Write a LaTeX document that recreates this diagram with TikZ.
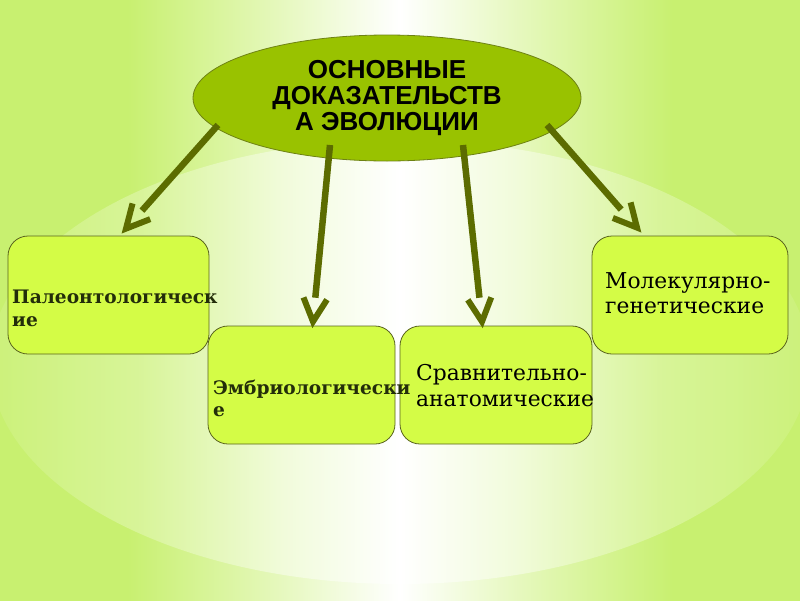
\documentclass[tikz,border=0pt]{standalone}
\usepackage{fontspec}
\setmainfont{DejaVu Serif}
\newfontfamily\titlefont{Liberation Sans}
\usetikzlibrary{shapes.geometric,calc}
\definecolor{bgG}{RGB}{200,240,112}
\definecolor{ellG}{RGB}{153,194,0}
\definecolor{ellB}{RGB}{110,130,20}
\definecolor{boxG}{RGB}{212,252,70}
\definecolor{boxB}{RGB}{90,100,30}
\definecolor{arr}{RGB}{92,108,0}
\definecolor{txtD}{RGB}{35,45,10}
\colorlet{bgA}{bgG!55!white}
\colorlet{elA}{bgG!93!white}
\colorlet{elB}{bgG!72!white}
\colorlet{elC}{bgG!25!white}
\pgfdeclarehorizontalshading{bgsh}{100bp}{color(0bp)=(bgG); color(25bp)=(bgG); color(33bp)=(bgG); color(41bp)=(bgA); color(50bp)=(white); color(59bp)=(bgA); color(67bp)=(bgG); color(75bp)=(bgG); color(100bp)=(bgG)}
\pgfdeclarehorizontalshading{ellsh}{100bp}{color(0bp)=(elA); color(25bp)=(elA); color(34bp)=(elB); color(43bp)=(elC); color(50bp)=(white); color(57bp)=(elC); color(66bp)=(elB); color(75bp)=(elA); color(100bp)=(elA)}
\begin{document}
\begin{tikzpicture}[x=1pt,y=-1pt,
  boxst/.style={draw=boxB, line width=0.8pt, fill=boxG, rounded corners=20pt, minimum height=118pt, inner sep=0pt},
  shaft/.style={draw=arr, line width=6.5pt},
  vhead/.style={draw=arr, line width=6pt, line join=miter},
  boldtxt/.style={anchor=base west, inner sep=0pt, text=txtD, font=\fontsize{18.6}{21}\selectfont\bfseries},
  regtxt/.style={anchor=base west, inner sep=0pt, text=black, font=\fontsize{21.8}{25}\selectfont}]
\useasboundingbox (0,0) rectangle (800,600);
\clip (0,0) rectangle (800,600);
\shade[shading=bgsh] (0,0) rectangle (800,600);
\shade[shading=ellsh] (400,362) ellipse [x radius=410, y radius=222];

\node[ellipse, draw=ellB, line width=0.8pt, fill=ellG, minimum width=388pt, minimum height=126pt, inner sep=0pt, align=center, text=black,
  font=\titlefont\fontsize{26}{26}\selectfont\bfseries] (e) at (387,98) {ОСНОВНЫЕ\\ДОКАЗАТЕЛЬСТВ\\А ЭВОЛЮЦИИ};

\node[boxst, minimum width=201pt] (b1) at (108.5,295) {};
\node[boxst, minimum width=187pt] (b2) at (301.5,385) {};
\node[boxst, minimum width=192pt] (b3) at (496,385) {};
\node[boxst, minimum width=196pt] (b4) at (690,295) {};

\node[boldtxt] (t1a) at (12,303) {Палеонтологическ};
\node[boldtxt] (t1b) at (12,326) {ие};
\node[boldtxt] (t2a) at (213,394) {Эмбриологически};
\node[boldtxt] (t2b) at (213,416) {е};
\node[regtxt] (t3a) at (416,380) {Сравнительно-};
\node[regtxt] (t3b) at (416,406) {анатомические};
\node[regtxt] (t4a) at (605,288) {Молекулярно-};
\node[regtxt] (t4b) at (605,313) {генетические};

\coordinate (s1) at ($(e.center)+(-169,27)$);
\coordinate (s2) at ($(e.center)+(-57,47)$);
\coordinate (s3) at ($(e.center)+(76,47)$);
\coordinate (s4) at ($(e.center)+(160,27)$);
\coordinate (p1) at ($(b1.north)+(17.5,-7)$);
\coordinate (p2) at ($(b2.north)+(11.5,-4)$);
\coordinate (p3) at ($(b3.north)+(-14,-4)$);
\coordinate (p4) at ($(b4.north)+(-53,-8)$);

\foreach \i in {1,2,3,4}{
  \draw[shaft] (s\i) -- ($(p\i)!24pt!(s\i)$);
  \draw[vhead] ($(p\i)!26pt!27:(s\i)$) -- (p\i) -- ($(p\i)!26pt!-27:(s\i)$);
}
\end{tikzpicture}
\end{document}
